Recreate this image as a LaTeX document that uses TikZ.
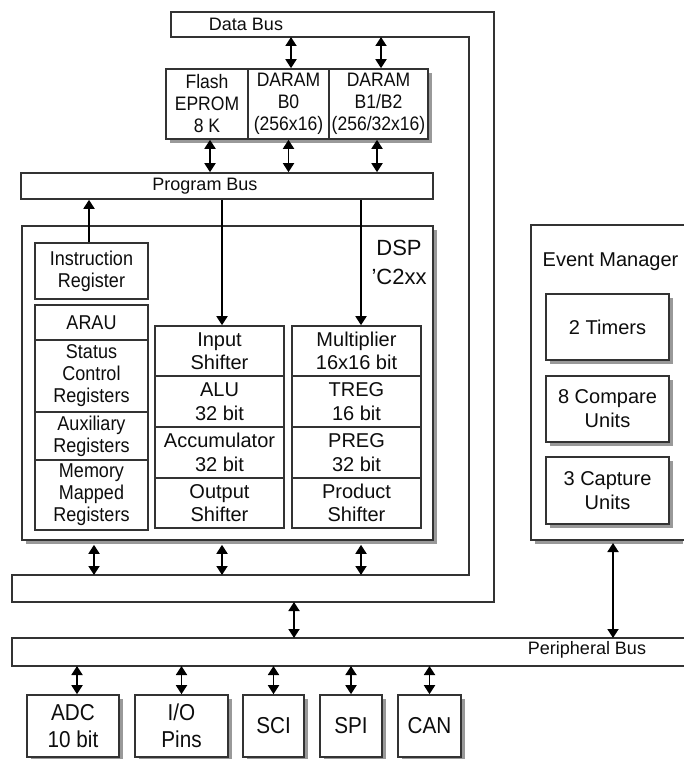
\documentclass[tikz,border=0pt]{standalone}
\usepackage{fontspec}
\setmainfont{Liberation Sans}
\newfontfamily\narrowsans{Liberation Sans}[FakeStretch=0.9]
\usetikzlibrary{arrows.meta,shadows}
\begin{document}
\begin{tikzpicture}[x=1pt,y=-1pt,
  ln/.style={draw=black!80, line width=1.6pt},
  txt/.style={text=black!95, inner sep=0pt, align=center},
  fbus/.style={txt, font=\fontsize{18}{22}\selectfont},
  fmem/.style={txt, font=\narrowsans\fontsize{19.5}{22}\selectfont},
  fleft/.style={txt, font=\narrowsans\fontsize{20}{22}\selectfont},
  fcol/.style={txt, font=\fontsize{20}{23.5}\selectfont},
  fem/.style={txt, font=\fontsize{20}{24}\selectfont},
  fbot/.style={txt, font=\narrowsans\fontsize{23}{27}\selectfont},
  cell/.style={ln, fill=white, inner sep=0pt, align=center},
  shd/.style={drop shadow={shadow xshift=4pt, shadow yshift=-4pt, fill=black!40, opacity=1}},
  tip/.tip={Triangle[length=9pt,width=11pt]},
  dbl/.style={draw=black, line width=1.8pt, tip-tip},
  arr/.style={draw=black, line width=1.8pt, -tip},
]
\useasboundingbox (0,0) rectangle (683,759);
\fill[white] (0,0) rectangle (683,759);

% ---------------- Data bus (L-shape, continues into lower bus)
\draw[ln, fill=white] (171,12) -- (494,12) -- (494,602) -- (12,602) -- (12,575)
  -- (469,575) -- (469,37) -- (171,37) -- cycle;
\node[fbus] (dblabel) at (246,24) {Data Bus};
\coordinate (dbin) at (0,37);
\coordinate (lbtop) at (0,575);
\coordinate (lbbot) at (0,602);

% ---------------- Memory block
\fill[black!40] (170,73) rectangle (432,143);
\node[cell, fmem, minimum width=82, minimum height=70] (flash) at (207,104) {Flash\\EPROM\\8 K};
\node[cell, fmem, minimum width=81, minimum height=70] (b0) at (288.5,104) {DARAM\\B0\\(256x16)};
\node[cell, fmem, minimum width=99, minimum height=70] (b1) at (378.5,104) {DARAM\\B1/B2\\(256/32x16)};

% ---------------- Program bus
\node[cell, minimum width=412, minimum height=26] (pbus) at (227,186) {};
\node[fbus] (pblabel) at (205,186) {Program Bus};

\draw[dbl] ([xshift=2.5]b0.north) -- ([xshift=2.5]b0.north |- dbin);
\draw[dbl] ([xshift=2.5]b1.north) -- ([xshift=2.5]b1.north |- dbin);
\draw[dbl] ([xshift=3]flash.south) -- ([xshift=3]flash.south |- pbus.north);
\draw[dbl] (b0.south) -- (b0.south |- pbus.north);
\draw[dbl] ([xshift=-1.5]b1.south) -- ([xshift=-1.5]b1.south |- pbus.north);

% ---------------- DSP core
\node[cell, shd, minimum width=411, minimum height=314] (dsp) at (227.5,383) {};
\node[txt, font=\fontsize{22}{29}\selectfont] (dsplabel) at (399,262) {DSP\\'C2xx};

\node[cell, fleft, minimum width=113, minimum height=56] (ir) at (91.5,271) {Instruction\\Register};
\node[cell, fleft, minimum width=113, minimum height=35] (arau) at (91.5,322.5) {ARAU};
\node[cell, fleft, minimum width=113, minimum height=72] (scr) at (91.5,376) {Status\\Control\\Registers};
\node[cell, fleft, minimum width=113, minimum height=48] (aux) at (91.5,436) {Auxiliary\\Registers};
\node[cell, fleft, minimum width=113, minimum height=70] (mmr) at (91.5,495) {Memory\\Mapped\\Registers};

\node[cell, fcol, minimum width=129, minimum height=50] (isft) at (219.5,351) {Input\\Shifter};
\node[cell, fcol, minimum width=129, minimum height=51] (alu) at (219.5,401.5) {ALU\\32 bit};
\node[cell, fcol, minimum width=129, minimum height=51] (acc) at (219.5,452.5) {Accumulator\\32 bit};
\node[cell, fcol, minimum width=129, minimum height=50] (osft) at (219.5,503) {Output\\Shifter};

\node[cell, fcol, minimum width=129, minimum height=50] (mult) at (356.5,351) {Multiplier\\16x16 bit};
\node[cell, fcol, minimum width=129, minimum height=51] (treg) at (356.5,401.5) {TREG\\16 bit};
\node[cell, fcol, minimum width=129, minimum height=51] (preg) at (356.5,452.5) {PREG\\32 bit};
\node[cell, fcol, minimum width=129, minimum height=50] (psft) at (356.5,503) {Product\\Shifter};

\draw[arr] ([xshift=-2.5]ir.north) -- ([xshift=-2.5]ir.north |- pbus.south);
\draw[arr] ([xshift=2.5]isft.north |- pbus.south) -- ([xshift=2.5]isft.north);
\draw[arr] ([xshift=4.5]mult.north |- pbus.south) -- ([xshift=4.5]mult.north);

\draw[dbl, shorten <=4pt] ([xshift=2.5]mmr.south |- dsp.south) -- ([xshift=2.5]mmr.south |- lbtop);
\draw[dbl, shorten <=4pt] ([xshift=2.5]osft.south |- dsp.south) -- ([xshift=2.5]osft.south |- lbtop);
\draw[dbl, shorten <=4pt] ([xshift=4.5]psft.south |- dsp.south) -- ([xshift=4.5]psft.south |- lbtop);

% ---------------- Event manager
\fill[black!40] (535,540) rectangle (683,544);
\draw[ln, fill=white] (684,225) -- (531,225) -- (531,540) -- (684,540);
\coordinate (emb) at (613,540);
\node[fem] (emlabel) at (610.5,262) {Event Manager};
\node[cell, fem, shd, minimum width=123, minimum height=66] (tim) at (607.5,327) {2 Timers};
\node[cell, fem, shd, minimum width=123, minimum height=66] (cmp) at (607.5,409) {8 Compare\\Units};
\node[cell, fem, shd, minimum width=123, minimum height=67] (cap) at (607.5,490.5) {3 Capture\\Units};

% ---------------- Peripheral bus
\draw[ln, fill=white] (684,638) -- (12,638) -- (12,666) -- (684,666);
\coordinate (pbtop) at (0,638);
\coordinate (pbbot) at (0,666);
\node[fbus] (perlabel) at (587,650) {Peripheral Bus};

\draw[dbl] (294,0 |- lbbot) -- (294,0 |- pbtop);
\draw[dbl, shorten <=3pt] (emb) -- (emb |- pbtop);

% ---------------- Peripherals
\node[cell, fbot, shd, minimum width=92, minimum height=62] (adc) at (73,726) {ADC\\10 bit};
\node[cell, fbot, shd, minimum width=93, minimum height=62] (io) at (181.5,726) {I/O\\Pins};
\node[cell, fbot, shd, minimum width=61, minimum height=62] (sci) at (273.5,726) {SCI};
\node[cell, fbot, shd, minimum width=62, minimum height=62] (spi) at (351,726) {SPI};
\node[cell, fbot, shd, minimum width=63, minimum height=62] (can) at (429.5,726) {CAN};

\draw[dbl] ([xshift=4]adc.north) -- ([xshift=4]adc.north |- pbbot);
\draw[dbl] (io.north) -- (io.north |- pbbot);
\draw[dbl] (sci.north) -- (sci.north |- pbbot);
\draw[dbl] (spi.north) -- (spi.north |- pbbot);
\draw[dbl] (can.north) -- (can.north |- pbbot);
\end{tikzpicture}
\end{document}
